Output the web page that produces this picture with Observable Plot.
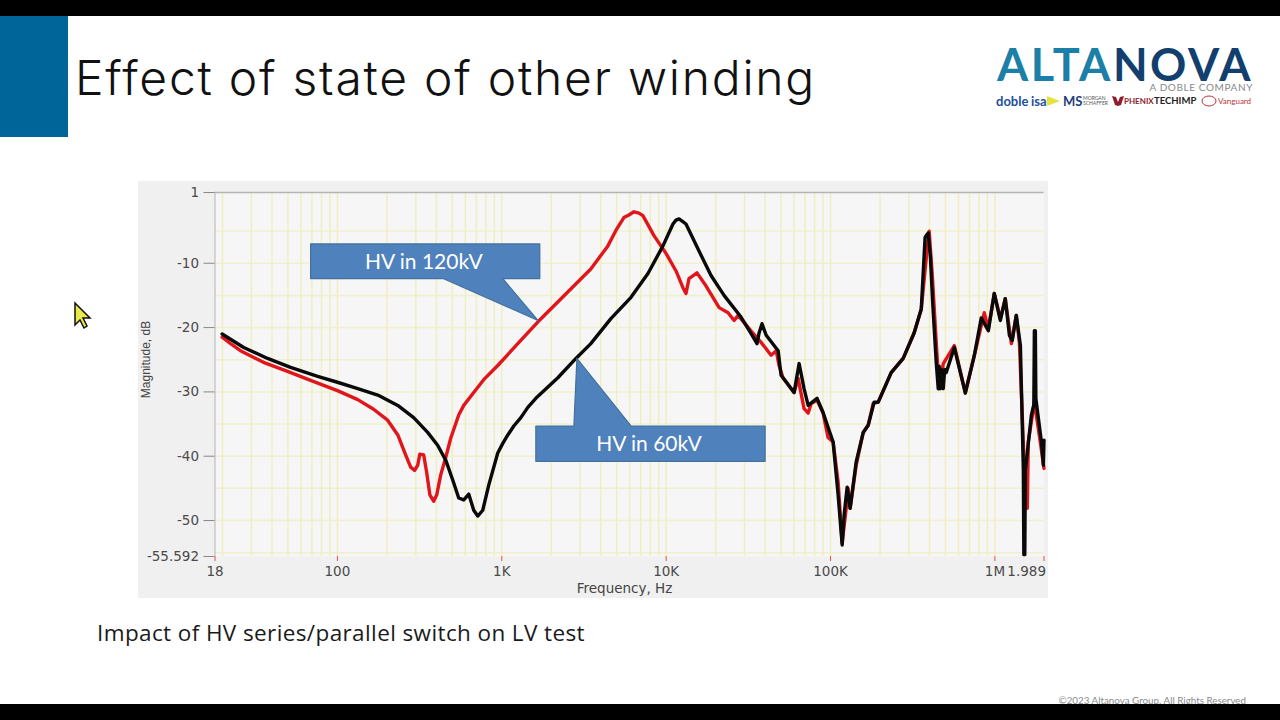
<!DOCTYPE html>
<html>
<head>
<meta charset="utf-8">
<script src="https://cdn.jsdelivr.net/npm/d3@7"></script>
<script src="https://cdn.jsdelivr.net/npm/@observablehq/plot@0.6"></script>
<style>
html,body{margin:0;padding:0;background:#fff;overflow:hidden}
#page{position:relative;width:1280px;height:720px;overflow:hidden;background:#fff}
.abs{position:absolute;white-space:nowrap}
#chart{position:absolute;left:138px;top:181px}
#chart svg{display:block}
.lg{position:absolute;top:94px;white-space:nowrap;line-height:14px;font-family:Lato;font-weight:700}
</style>
</head>
<body>
<div id="page">
  <div class="abs" style="left:0;top:16px;width:68px;height:121px;background:#006699"></div>
  <div class="abs fit" data-w="741" style="left:75px;top:49px;font:300 48px/58px Inter;color:#111">Effect of state of other winding</div>
  <div class="abs fit" data-w="256" style="left:997px;top:46px;font:700 45px/36px Lato"><span style="color:#1b7fa8">ALTA</span><span style="color:#123f6d">NOVA</span></div>
  <div class="abs" style="right:27px;top:82px;font:400 10px/11px Lato;letter-spacing:.6px;color:#888">A DOBLE COMPANY</div>
  <span class="lg" style="left:996px;color:#1d4e9e;font-size:13px">doble</span>
  <span class="lg" style="left:1031px;color:#1d4e9e;font-size:13px">isa</span>
  <svg class="abs" style="left:1047px;top:95px" width="14" height="12"><path d="M0 1 L13 6 L0 11 Z" fill="#e6e23c"/></svg>
  <span class="lg" style="left:1063px;color:#24407a;font-size:13px">MS</span>
  <span class="lg" style="left:1083px;top:96px;color:#555;font-size:5px;line-height:5px;font-weight:400">MORGAN<br>SCHAFFER</span>
  <svg class="abs" style="left:1112px;top:95px" width="12" height="12"><path d="M0 1 L4 2 L6 7 L8 2 L12 1 L9 10 L6 11 L3 10 Z" fill="#8e1c2b"/></svg>
  <span class="lg" style="left:1124px;color:#8e1c2b;font-size:8px">PHENIX</span>
  <span class="lg" style="left:1154px;color:#222;font-size:9.5px">TECHIMP</span>
  <svg class="abs" style="left:1201px;top:95px" width="16" height="12"><ellipse cx="8" cy="6" rx="7" ry="5" fill="none" stroke="#b33" stroke-width="1"/></svg>
  <span class="lg" style="left:1218px;color:#b33;font-size:8px;font-weight:400">Vanguard</span>
  <div id="chart"></div>
  <div class="abs fit" data-w="488" style="left:97px;top:617px;font:400 22.5px/32px 'Open Sans';color:#1a1a1a">Impact of HV series/parallel switch on LV test</div>
  <svg class="abs" style="left:70px;top:300px" width="24" height="30"><path d="M5 3 L5 25 L10 20 L14 28 L17 26 L13 18 L20 18 Z" fill="#e9e94a" stroke="#111" stroke-width="1.5"/></svg>
  <div class="abs" style="right:34px;top:694px;font:400 9.8px Lato;color:#8a8a8a">©2023 Altanova Group. All Rights Reserved</div>
  <div class="abs" style="left:0;top:0;width:1280px;height:16px;background:#000"></div>
  <div class="abs" style="left:0;top:704px;width:1280px;height:16px;background:#000"></div>
</div>
<script>
// Measured series: frequency (Hz) and magnitude (dB)
const redHz = [19.9,22.4,25.7,35.5,49.7,68.7,100,133,166,202,233,260,279,295,308,317,335,349,365,385,402,425,456,489,547,587,675,776,945,1251,1660,3480,4420,4945,5530,5930,6370,6830,7220,8430,10000,11480,12650,13200,13770,15400,17460,21000,23800,25900,27400,32800,37800,43500,46700,48600,51400,60000,63500,69000,73100,76200,82800,90100,96600,103700,111200,117700,124500,127900,131600,143200,158100,169400,181700,195000,233900,276700,322800,356500,382000,398100,415900,439500,458100,485300,566200,660700,749900,861000,912000,990800,1079000,1156000,1259000,1349000,1409000,1500000,1574000,1596000,1738000,1862000,1989000];
const redDb = [-21.5,-22.5,-23.6,-25.4,-26.8,-28.2,-29.8,-31.2,-32.7,-34.4,-36.7,-39.8,-41.7,-42.2,-41.4,-39.7,-39.8,-42.5,-46,-47,-46,-42.9,-40.2,-37.2,-33.6,-32.1,-30.1,-28.1,-25.9,-22.5,-19.1,-10.9,-7.3,-4.9,-2.9,-2.5,-2,-2.2,-2.6,-5.7,-8.5,-11.2,-13.8,-14.7,-12.4,-11.5,-13.5,-16.9,-17.7,-18.9,-18.1,-20.5,-22.3,-24.3,-23.6,-25.9,-27.8,-30.1,-27.9,-32.6,-33.3,-31.8,-31.3,-33.3,-37.1,-37.8,-44,-53.5,-48.1,-45,-48.1,-41.4,-36.3,-35.2,-31.8,-31.6,-27,-24.8,-20.8,-17.1,-9.3,-5,-11.9,-22.3,-29.5,-25.6,-22.8,-30.1,-24.3,-17.7,-20.2,-14.7,-18.6,-15.5,-22.5,-18.1,-22.3,-40,-48.1,-37.8,-31.6,-36.7,-41.9];
const blackHz = [19.9,26.9,37.6,51.9,75.8,100,133,176,233,291,354,407,456,503,547,587,630,675,714,766,833,945,1014,1088,1183,1306,1440,1611,2193,2825,3480,4610,6110,7750,9560,11000,11480,11970,12450,13200,15630,18750,22500,28600,32800,35700,36700,38300,40600,48000,50000,60000,64400,69000,73100,82800,90100,96600,103700,111200,117700,121000,126200,131600,143200,158100,169400,184300,195000,233900,276700,322800,356500,376000,382000,392900,405000,418000,439500,452000,458000,465000,472000,485000,495000,505800,566200,660700,749900,826000,912000,990800,1079000,1156000,1225000,1276000,1349000,1429000,1489000,1500000,1510000,1520000,1531000,1667000,1725000,1738000,1750000,1762000,1775000,1786000,1919000,1972000,1989000];
const blackDb = [-21,-23.1,-24.8,-26.2,-27.6,-28.5,-29.5,-30.5,-32.1,-34,-36.3,-38.3,-40.6,-43.7,-46.5,-46.8,-45.9,-48.4,-49.3,-48.4,-44.5,-39.5,-38,-36.7,-35.3,-34,-32.4,-31,-27.8,-24.8,-22.5,-18.6,-15.3,-11.6,-7.3,-3.9,-3.3,-3.1,-3.4,-3.9,-7.8,-11.9,-15,-18.4,-20.9,-22.5,-20.9,-19.4,-21.2,-23.6,-27.4,-30.1,-25.6,-29.5,-32.1,-31,-33.2,-35.5,-37.8,-46,-53.8,-49.1,-44.8,-48.1,-40.9,-36.3,-35.2,-31.6,-31.6,-27,-24.8,-20.8,-17.1,-6,-5.7,-5.3,-9,-16,-25.4,-29.5,-26,-29.5,-26.5,-29.5,-26.5,-27,-23.1,-30.2,-24.3,-18.5,-20.5,-14.7,-18.9,-15.5,-21.2,-22,-18.1,-22.8,-42,-55.3,-45,-55.3,-42.2,-33.6,-32,-20.5,-31,-20.5,-31,-31.6,-37.8,-41.4,-37.5];

const xTicks = [18,100,1000,10000,100000,1000000];
const xTickLabels = ["18","100","1K","10K","100K","1M"];
const xEnd = [1989000];
const xEndLabel = ["1.989"];
const yTicks = [1,-10,-20,-30,-40,-50,-55.592];
const yTickLabels = ["1","-10","-20","-30","-40","-50","-55.592"];
const gridMultiples = [2,3,4,5,6,7,8,9];
const gridDecades = [10,100,1000,10000,100000,1000000];
const gridDb = [-5,-10,-15,-20,-25,-30,-35,-40,-45,-50,-55];

// Callouts, anchored in data space
const call1Hz = [68.7,1703,1703,1014,1660,443,68.7,68.7];
const call1Db = [-7,-7,-12.4,-12.4,-18.9,-12.4,-12.4,-7];
const call2Hz = [1611,2745,2864,6110,40000,40000,1611,1611];
const call2Db = [-35.3,-35.3,-24.8,-35.3,-35.3,-40.8,-40.8,-35.3];
const callLabels = ["HV in 120kV","HV in 60kV"];
const callLabelHz = [340,7970];
const callLabelDb = [-9.9,-38.1];

const pts = (xs,ys)=>xs.map((x,i)=>({x,y:ys[i]}));
const gridHz = gridDecades.flatMap(d=>gridMultiples.map(m=>d*m)).filter(v=>v<=1989000);
gridHz.push(...[100,1000,10000,100000,1000000]);
const font = "'DejaVu Sans'";

const chart = Plot.plot({
  width:910,height:417,marginLeft:76.5,marginRight:4.5,marginTop:11,marginBottom:42,
  style:{background:"#f0f0f0",fontFamily:font,fontSize:"12px",color:"#444",overflow:"visible"},
  x:{type:"log",domain:[18,1989000]},
  y:{domain:[-55.592,1]},
  marks:[
    Plot.frame({fill:"#f6f6f6",stroke:null}),
    Plot.ruleY(gridDb,{stroke:"#f1f0cc",strokeWidth:1.5}),
    Plot.ruleX(gridHz,{stroke:"#f0eec2",strokeWidth:1.5}),
    Plot.ruleY([1],{stroke:"#b4b4b4",strokeWidth:1.5}),
    Plot.ruleX([18],{stroke:"#b4b4b4",strokeWidth:1}),
    Plot.axisX({ticks:[...xTicks,...xEnd],tickFormat:()=>"",tickSize:5,stroke:"#d9534f",label:null}),
    Plot.text(xTickLabels,{x:xTicks,text:d=>d,frameAnchor:"bottom",lineAnchor:"middle",dy:15,fill:"#4a4a4a",fontSize:13.5}),
    Plot.text(xEndLabel,{x:xEnd,text:d=>d,frameAnchor:"bottom",lineAnchor:"middle",textAnchor:"end",dx:2,dy:15,fill:"#4a4a4a",fontSize:13.5}),
    Plot.axisY({ticks:yTicks,tickFormat:(d,i)=>yTickLabels[i],tickSize:11,tickPadding:5,stroke:"#888",fill:"#4a4a4a",label:null,fontSize:13.5}),
    Plot.text(["Frequency, Hz"],{frameAnchor:"bottom",lineAnchor:"middle",dy:32,dx:-5,fill:"#444",fontSize:13.5,style:{letterSpacing:"1.4px"}}),
    Plot.text(["Magnitude, dB"],{frameAnchor:"left",textAnchor:"middle",rotate:-90,dx:-69,dy:-15,fill:"#444",fontSize:12,fontFamily:"'Liberation Sans'"}),
    Plot.line(pts(redHz,redDb),{x:"x",y:"y",stroke:"#e0161c",strokeWidth:3.4,curve:"linear"}),
    Plot.line(pts(blackHz,blackDb),{x:"x",y:"y",stroke:"#0a0a0a",strokeWidth:3.4,curve:"linear"}),
    Plot.line(pts(call1Hz,call1Db),{x:"x",y:"y",fill:"#4f81bd",stroke:"#41719c",strokeWidth:1.2,curve:"linear"}),
    Plot.line(pts(call2Hz,call2Db),{x:"x",y:"y",fill:"#4f81bd",stroke:"#41719c",strokeWidth:1.2,curve:"linear"}),
    Plot.text(callLabels,{x:callLabelHz,y:callLabelDb,text:d=>d,dx:-1,fill:"#fff",fontSize:21,fontFamily:"Lato",style:{letterSpacing:"2.5px"}})
  ]
});
document.getElementById("chart").appendChild(chart);

// Fit headline widths to the slide's measured text widths
document.querySelectorAll(".fit").forEach(el=>{
  const n = el.textContent.length;
  const w = el.getBoundingClientRect().width;
  el.style.letterSpacing = ((+el.dataset.w - w)/n).toFixed(3)+"px";
});
</script>
</body>
</html>
